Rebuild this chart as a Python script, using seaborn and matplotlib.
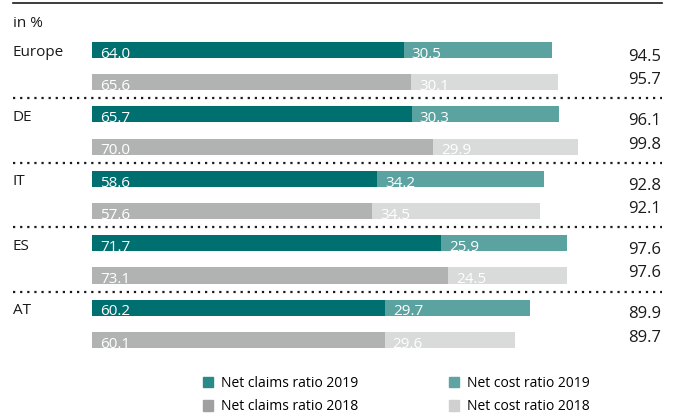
import matplotlib
matplotlib.use("Agg")
import matplotlib.pyplot as plt
import seaborn as sns
import pandas as pd
from matplotlib.patches import Patch

# ---- data ----
regions = ["Europe", "DE", "IT", "ES", "AT"]
claims_2019 = [64.0, 65.7, 58.6, 71.7, 60.2]
cost_2019 = [30.5, 30.3, 34.2, 25.9, 29.7]
total_2019 = [94.5, 96.1, 92.8, 97.6, 89.9]
claims_2018 = [65.6, 70.0, 57.6, 73.1, 60.1]
cost_2018 = [30.1, 29.9, 34.5, 24.5, 29.6]
# cost segment length as drawn in the source (AT 2018 bar is drawn shorter than its label)
cost_2018_drawn = [30.1, 29.9, 34.5, 24.5, 26.8]
total_2018 = [95.7, 99.8, 92.1, 97.6, 89.7]
legend_labels = ["Net claims ratio 2019", "Net claims ratio 2018",
                 "Net cost ratio 2019", "Net cost ratio 2018"]

C_CLAIMS19 = "#006f6f"
C_COST19 = "#5ba3a1"
C_CLAIMS18 = "#b1b3b3"
C_COST18 = "#d9dada"

rows = []
for i, r in enumerate(regions):
    rows.append(dict(row=f"{r} 2019", year="2019", claims=claims_2019[i], cost=cost_2019[i],
                     drawn=cost_2019[i], total=total_2019[i]))
    rows.append(dict(row=f"{r} 2018", year="2018", claims=claims_2018[i], cost=cost_2018[i],
                     drawn=cost_2018_drawn[i], total=total_2018[i]))
df = pd.DataFrame(rows)
df["stack"] = df["claims"] + df["drawn"]

W, H = 677, 416
fig = plt.figure(figsize=(W / 100, H / 100), dpi=100)
ax = fig.add_axes([0, 0, 1, 1])

FONT = ["Open Sans", "DejaVu Sans"]
plt.rcParams["font.family"] = FONT

# pixel mapping
X0, SX = 92.0, 4.868
Y0, SY = 50.0, 32.22
def px2x(p):
    return (p - X0) / SX
def py2y(p):
    return (p - Y0) / SY

sns.barplot(data=df, y="row", x="stack", hue="year", hue_order=["2019", "2018"],
            palette=[C_COST19, C_COST18], dodge=False, orient="h", width=0.5,
            legend=False, ax=ax, saturation=1)
sns.barplot(data=df, y="row", x="claims", hue="year", hue_order=["2019", "2018"],
            palette=[C_CLAIMS19, C_CLAIMS18], dodge=False, orient="h", width=0.5,
            legend=False, ax=ax, saturation=1)
for p in ax.patches:
    p.set_linewidth(0)

ax.set_xlim(px2x(0), px2x(W))
ax.set_ylim(py2y(H), py2y(0))
ax.axis("off")

TXT = "#1a1a1a"
for i, rec in df.iterrows():
    ax.text(px2x(X0 + 8), i + 0.24, f"{rec['claims']:.1f}", color="white",
            fontsize=11, va="baseline", ha="left")
    ax.text(rec["claims"] + 8 / SX, i + 0.24, f"{rec['cost']:.1f}", color="white",
            fontsize=11, va="baseline", ha="left")
    dy = 0.33 if rec["year"] == "2019" else 0.06
    ax.text(px2x(661), i + dy, f"{rec['total']:.1f}", color=TXT,
            fontsize=12, va="baseline", ha="right")

for k, r in enumerate(regions):
    ax.text(px2x(13), 2 * k + 0.2, r, color=TXT, fontsize=11, va="baseline", ha="left")
    if k > 0:
        ax.plot([px2x(13), px2x(662)], [2 * k - 0.5, 2 * k - 0.5], color=TXT,
                lw=1.6, ls=(0, (1, 2.2)))

ax.plot([px2x(13), px2x(662)], [py2y(3), py2y(3)], color=TXT, lw=1.2)
ax.text(px2x(13), py2y(27), "in %", color=TXT, fontsize=11, va="baseline", ha="left")

handles = [Patch(color="#2a8a8a"), Patch(color="#a0a0a0"),
           Patch(color="#5fa3a3"), Patch(color="#d0d0d0")]
fig.legend(handles, legend_labels, ncol=2, loc="upper left",
           bbox_to_anchor=(203 / W, 1 - 376 / H), frameon=False, fontsize=10,
           handlelength=0.75, handleheight=0.75, handletextpad=0.55,
           columnspacing=6.5, labelspacing=0.6, borderpad=0, borderaxespad=0)

fig.savefig("out.png", dpi=100)
